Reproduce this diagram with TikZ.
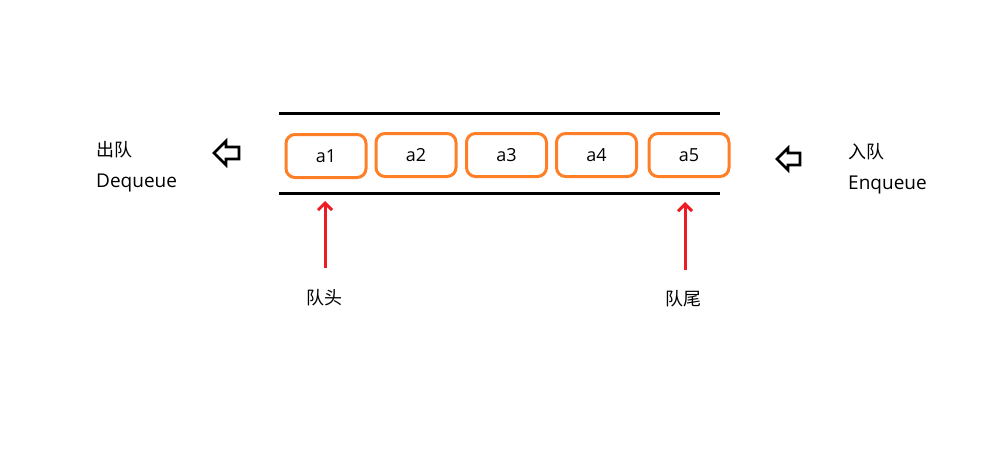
\documentclass[tikz,border=0pt]{standalone}
\usepackage{fontspec}
\setmainfont{Open Sans}
\newfontfamily\cjk{Noto Sans CJK SC}
\usetikzlibrary{arrows.meta}
\definecolor{paintorange}{RGB}{255,127,39}
\definecolor{paintred}{RGB}{237,28,36}
\newcommand{\lowered}[1]{\raisebox{-3pt}{#1}}
\tikzset{
  item/.style={draw=paintorange, line width=3pt, rounded corners=9pt, minimum height=43pt, minimum width=80pt, inner sep=0pt, font=\fontsize{18}{21}\selectfont},
  label/.style={font=\fontsize{19}{22}\selectfont, inner sep=0pt, anchor=west},
  cjklabel/.style={font=\cjk\fontsize{18}{21}\selectfont, inner sep=0pt},
  wall/.style={line width=3pt},
  pointer/.style={draw=paintred, line width=3pt, -{Straight Barb[length=7pt,width=14pt,line width=3pt]}},
  hollow/.style={draw=black, line width=2.6pt, line join=miter}
}
\begin{document}
\begin{tikzpicture}[x=1pt,y=-1pt]
\useasboundingbox[fill=white] (0,0) rectangle (991,466);
% walls
\coordinate (tl) at (279,113); \coordinate (tr) at (720,113);
\coordinate (bl) at (279,193); \coordinate (br) at (720,193);
\draw[wall] (tl) -- (tr);
\draw[wall] (bl) -- (br);
% items
\node[item] (a1) at (326,156) {\lowered{a1}};
\node[item] (a2) at (416,155) {\lowered{a2}};
\node[item] (a3) at (506.5,155) {\lowered{a3}};
\node[item] (a4) at (596.5,155) {\lowered{a4}};
\node[item] (a5) at (689,155) {\lowered{a5}};
% left labels
\node[cjklabel, anchor=west] (deq) at (96,150) {出队};
\node[label] (deqen) at (96,183) {Dequeue};
\node[cjklabel, anchor=west] (enq) at (848,152) {入队};
\node[label] (enqen) at (848,185) {Enqueue};
% hollow arrows
\draw[hollow] (214,153) -- (226,141) -- (226,147) -- (239,147) -- (239,159) -- (226,159) -- (226,165) -- cycle;
\draw[hollow] (777,159) -- (788,148) -- (788,153) -- (800,153) -- (800,165) -- (788,165) -- (788,170) -- cycle;
% pointers
\node[cjklabel] (head) at (324,298) {队头};
\node[cjklabel] (tail) at (683,299) {队尾};
\coordinate (hs) at (325,268); \coordinate (he) at (325,201);
\coordinate (ts) at (685,270); \coordinate (te) at (685,202);
\draw[pointer] (hs) -- (he);
\draw[pointer] (ts) -- (te);
\end{tikzpicture}
\end{document}
